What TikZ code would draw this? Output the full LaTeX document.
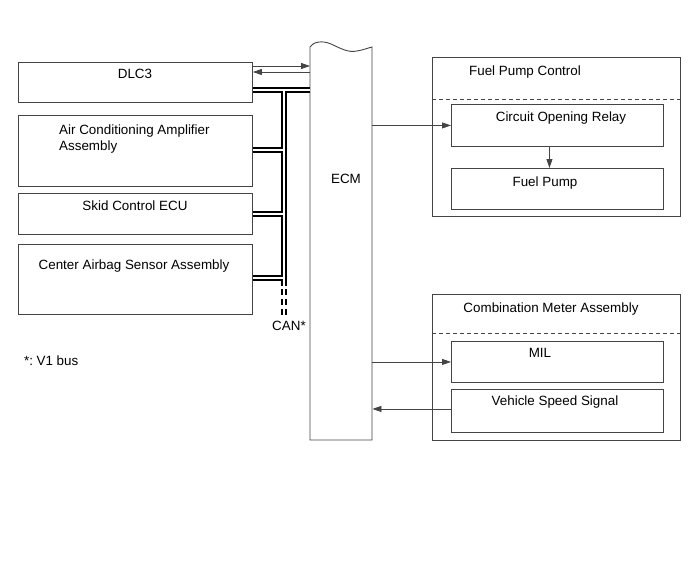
\documentclass[tikz,border=0pt]{standalone}
\usepackage{fontspec}
\setmainfont{Liberation Sans}
\usetikzlibrary{arrows.meta,calc}
\definecolor{ln}{HTML}{444444}
\begin{document}
\begin{tikzpicture}[x=1pt,y=-1pt,
  every node/.style={font=\fontsize{13.4}{16}\selectfont, inner sep=0pt, text=black},
  box/.style={draw=ln, line width=0.9pt, anchor=north west, inner sep=0pt},
  txt/.style={anchor=base},
  txtl/.style={anchor=base west},
  arr/.style={draw=ln, line width=0.8pt, -{Triangle[length=9pt,width=6pt]}},
  bus/.style={draw=black, line width=1.6pt, double=white, double distance=2.2pt},
  busdash/.style={draw=black, line width=1.6pt, dash pattern=on 6pt off 4pt},
  divider/.style={draw=ln, line width=0.8pt, dash pattern=on 4pt off 3pt}]
\useasboundingbox[fill=white] (0,0) rectangle (689,562);

% CAN bus junction points
\coordinate (jt) at (284,90);
\coordinate (jb) at (284,286);
\coordinate (je) at (284,317);

% left boxes
\node[box, minimum width=234pt, minimum height=40pt] (dlc) at (18,62) {};
\node[box, minimum width=234pt, minimum height=71pt] (ac) at (18,115) {};
\node[box, minimum width=234pt, minimum height=41pt] (skid) at (18,193) {};
\node[box, minimum width=234pt, minimum height=70pt] (cab) at (18,244) {};

% ECM
\node[minimum width=62pt, minimum height=392pt, anchor=north west] (ecm) at (310,48) {};
\draw[ln, line width=0.9pt] (310,440) -- (310,47)
  .. controls (313,42) and (322,40) .. (331,44)
  .. controls (340,48) and (348,53) .. (357,51)
  .. controls (363,50) and (368,48) .. (372,47)
  -- (372,440) -- cycle;

\draw[bus] (dlc.east |- jt) -- (ecm.west |- jt)
  (jt) -- (jb)
  (ac.east |- 0,150) -- (284,150)
  (skid.east |- 0,214) -- (284,214)
  (cab.east |- 0,278) -- (284,278);
\draw[busdash] ([xshift=-1.9pt]jb) ++(0,3) -- ([xshift=-1.9pt]je);
\draw[busdash] ([xshift=1.9pt]jb) ++(0,3) -- ([xshift=1.9pt]je);

% right boxes
\node[box, minimum width=248pt, minimum height=159pt] (fpc) at (432,57) {};
\node[box, minimum width=212pt, minimum height=42pt] (cor) at (451,104) {};
\node[box, minimum width=212pt, minimum height=41pt] (fp) at (451,168) {};
\node[box, minimum width=248pt, minimum height=146pt] (cma) at (432,294) {};
\node[box, minimum width=212pt, minimum height=41pt] (mil) at (451,341) {};
\node[box, minimum width=212pt, minimum height=43pt] (vss) at (451,389) {};
\draw[divider] (fpc.west |- 0,99) -- (fpc.east |- 0,99);
\draw[divider] (cma.west |- 0,333) -- (cma.east |- 0,333);

% texts
\node[txt] (tdlc) at (135,78) {DLC3};
\node[txtl] (tac1) at (59,134.8) {Air Conditioning Amplifier};
\node[txtl] (tac2) at (59,150.3) {Assembly};
\node[txt] (tskid) at (135,210) {Skid Control ECU};
\node[txt] (tcab) at (134,269) {Center Airbag Sensor Assembly};
\node[txt] (tecm) at (346,183) {ECM};
\node[txt] (tcan) at (289,330) {CAN*};
\node[txtl] (tnote) at (24,365) {*:\kern3.5pt V1 bus};
\node[txt] (tfpc) at (525,75) {Fuel Pump Control};
\node[txt] (tcor) at (561,121) {Circuit Opening Relay};
\node[txt] (tfp) at (545,186) {Fuel Pump};
\node[txt] (tcma) at (551,312) {Combination Meter Assembly};
\node[txt] (tmil) at (540,357) {MIL};
\node[txt] (tvss) at (555,405) {Vehicle Speed Signal};

% connectors
\draw[arr] ([yshift=-4pt]dlc.north east) -- ([yshift=-4pt]dlc.north east -| ecm.west);
\draw[arr] ([yshift=-10pt]dlc.north east -| ecm.west) -- ([yshift=-10pt]dlc.north east);
\draw[arr] (ecm.east |- cor.west) -- (cor.west);
\draw[arr] ([xshift=-8pt]cor.south) -- ([xshift=-8pt]fp.north);
\draw[arr] (ecm.east |- mil.west) -- (mil.west);
\draw[arr] ([yshift=2pt]vss.west) -- ([yshift=2pt]vss.west -| ecm.east);
\end{tikzpicture}
\end{document}
